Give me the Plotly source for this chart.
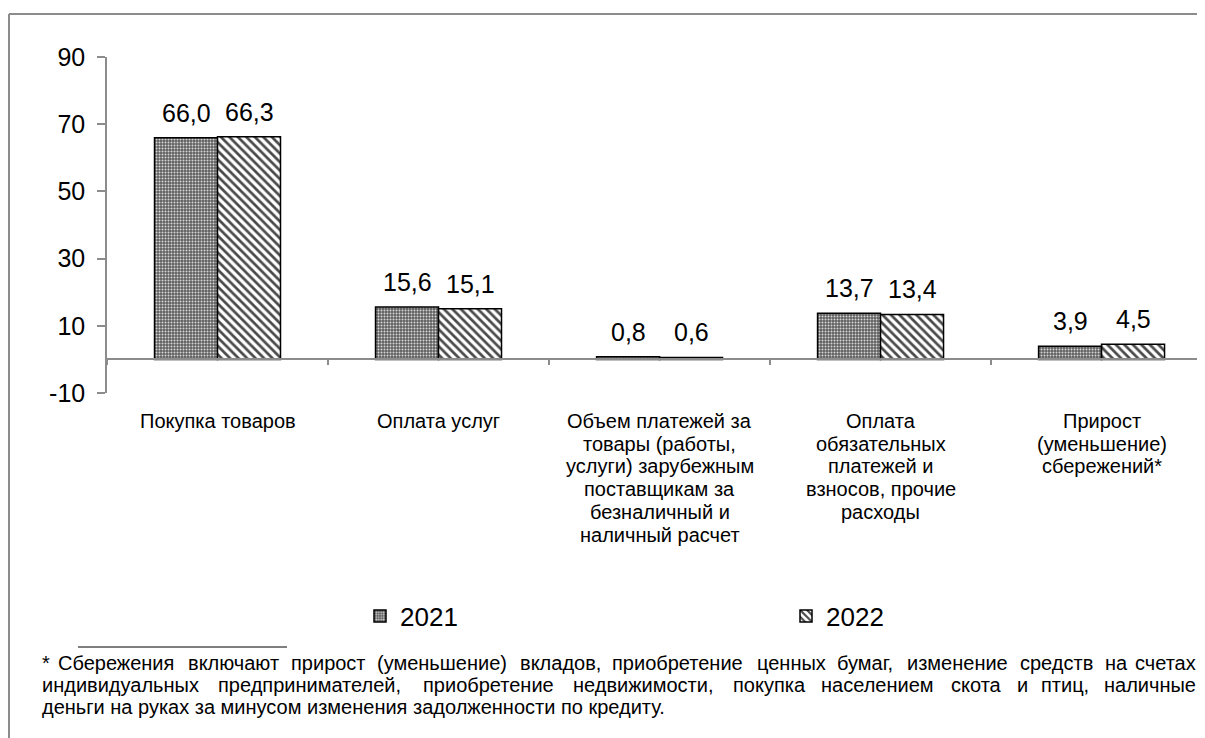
import plotly.graph_objects as go

# ---- data ----
categories = [
    "Покупка товаров",
    "Оплата услуг",
    "Объем платежей за<br>товары (работы,<br>услуги) зарубежным<br>поставщикам за<br>безналичный и<br>наличный расчет",
    "Оплата<br>обязательных<br>платежей и<br>взносов, прочие<br>расходы",
    "Прирост<br>(уменьшение)<br>сбережений*",
]
values_2021 = [66.0, 15.6, 0.8, 13.7, 3.9]
values_2022 = [66.3, 15.1, 0.6, 13.4, 4.5]
series_names = ["2021", "2022"]
y_tick_values = [-10, 10, 30, 50, 70, 90]
footnote_lines = [
    "* Сбережения включают прирост (уменьшение) вкладов, приобретение ценных бумаг, изменение средств на счетах",
    "индивидуальных предпринимателей, приобретение недвижимости, покупка населением скота и птиц, наличные",
    "деньги на руках за минусом изменения задолженности по кредиту.",
]
footnote_justified = [True, True, False]

# ---- layout geometry (pixels; page has an 8px body margin) ----
OFF = 8
W, H = 1197, 730
L, T = 99, 49
PLOT_W = W - L
PLOT_H = 336
B = H - T - PLOT_H
Y_MIN, Y_MAX = -10, 90
X_RANGE = [-0.5, 4.468]
BARGAP = 0.43


def px_x(sx):
    """screen x -> paper x"""
    return (sx - OFF - L) / PLOT_W


def px_y(sy):
    """screen y -> paper y"""
    return (T + PLOT_H - (sy - OFF)) / PLOT_H


FONT = "Liberation Sans, Arial, sans-serif"
GRAY = "#8c8c8c"

# approximate Arial/Liberation Sans advance widths (1/1000 em) for justification
_W = {" ": 278, ",": 278, ".": 278, "(": 333, ")": 333, "*": 389, "С": 722,
      "а": 556, "б": 573, "в": 531, "г": 365, "д": 583, "е": 556, "ж": 669,
      "з": 458, "и": 559, "й": 559, "к": 438, "л": 573, "м": 688, "н": 552,
      "о": 556, "п": 542, "р": 556, "с": 500, "т": 458, "у": 500, "ф": 823,
      "х": 500, "ц": 573, "ч": 521, "ш": 802, "щ": 823, "ъ": 625, "ы": 719,
      "ь": 521, "э": 510, "ю": 750, "я": 542}


def text_width(s, size):
    return sum(_W.get(c, 556) for c in s) * size / 1000.0 * 1.04


fig = go.Figure()
fig.add_trace(go.Bar(
    name=series_names[0], x=categories, y=values_2021, legend="legend",
    marker=dict(
        color="#5e5e5e",
        line=dict(color="black", width=1.5),
        pattern=dict(shape=".", bgcolor="#5e5e5e", fgcolor="#d8d8d8",
                     size=3, solidity=0.35, fillmode="replace"),
    ),
))
fig.add_trace(go.Bar(
    name=series_names[1], x=categories, y=values_2022, legend="legend2",
    marker=dict(
        color="white",
        line=dict(color="black", width=1.5),
        pattern=dict(shape="\\", bgcolor="white", fgcolor="#4a4a4a",
                     size=6, solidity=0.45, fillmode="replace"),
    ),
))

# data labels
group_px = PLOT_W / (X_RANGE[1] - X_RANGE[0])
bar_px = group_px * (1 - BARGAP) / 2
for vals, sign in ((values_2021, -1), (values_2022, 1)):
    for cat, v in zip(categories, vals):
        fig.add_annotation(
            x=cat, y=v, xref="x", yref="y",
            text=f"{v:.1f}".replace(".", ","),
            showarrow=False, xshift=sign * bar_px / 2, yshift=25,
            yanchor="middle", xanchor="center",
            font=dict(family=FONT, size=25, color="black"),
        )

# category labels (one annotation per line for Excel-like line spacing)
for cat in categories:
    for j, part in enumerate(cat.split("<br>")):
        fig.add_annotation(
            x=cat, y=px_y(421 + 22.7 * j), xref="x", yref="paper",
            text=part, showarrow=False, xanchor="center", yanchor="middle",
            font=dict(family=FONT, size=20, color="black"),
        )

# footnote (first two lines justified between the margins)
FN_SIZE = 20
FN_LEFT, FN_RIGHT = 40, 1198
for i, (line, just) in enumerate(zip(footnote_lines, footnote_justified)):
    y = px_y(663 + 22 * i)
    if just:
        words = line.split(" ")
        widths = [text_width(w, FN_SIZE) for w in words]
        gap = (FN_RIGHT - FN_LEFT - sum(widths)) / (len(words) - 1)
        x = FN_LEFT
        for k, (w, wd) in enumerate(zip(words, widths)):
            last = k == len(words) - 1
            fig.add_annotation(
                x=px_x(FN_RIGHT if last else x), y=y, xref="paper", yref="paper",
                text=w, showarrow=False, xanchor="right" if last else "left",
                yanchor="middle",
                font=dict(family=FONT, size=FN_SIZE, color="black"),
            )
            x += wd + gap
    else:
        fig.add_annotation(
            x=px_x(FN_LEFT), y=y, xref="paper", yref="paper",
            text=line, showarrow=False, xanchor="left", yanchor="middle",
            font=dict(family=FONT, size=FN_SIZE, color="black"),
        )

# separator line and outer frame
fig.add_shape(type="line", xref="paper", yref="paper",
              x0=px_x(78), x1=px_x(287), y0=px_y(647), y1=px_y(647),
              line=dict(color="black", width=1))
fig.add_shape(type="line", xref="paper", yref="paper",
              x0=px_x(9), x1=px_x(1215), y0=px_y(14), y1=px_y(14),
              line=dict(color=GRAY, width=2))
fig.add_shape(type="line", xref="paper", yref="paper",
              x0=px_x(9), x1=px_x(9), y0=px_y(14), y1=px_y(750),
              line=dict(color=GRAY, width=2))

legend_common = dict(
    orientation="h", xanchor="left", yanchor="middle", y=px_y(616),
    font=dict(family=FONT, size=26, color="black"),
    bgcolor="rgba(0,0,0,0)",
)

fig.update_layout(
    width=W, height=H,
    margin=dict(l=L, r=0, t=T, b=B, autoexpand=False),
    paper_bgcolor="white", plot_bgcolor="white",
    barmode="group", bargap=BARGAP, bargroupgap=0,
    font=dict(family=FONT, color="black"),
    showlegend=True,
    legend=dict(x=px_x(360), **legend_common),
    legend2=dict(x=px_x(786), **legend_common),
    xaxis=dict(
        type="category", range=X_RANGE, anchor="free",
        position=(0 - Y_MIN) / (Y_MAX - Y_MIN),
        showline=True, linecolor=GRAY, linewidth=2,
        ticks="outside", tickson="boundaries", ticklen=5, tickcolor=GRAY, tickwidth=1.5,
        showticklabels=False,
        showgrid=False, zeroline=False,
    ),
    yaxis=dict(
        range=[Y_MIN, Y_MAX], tickvals=y_tick_values,
        ticktext=[str(v) for v in y_tick_values],
        showline=True, linecolor=GRAY, linewidth=1.5,
        ticks="outside", ticklen=8, tickcolor=GRAY, tickwidth=1.5,
        ticklabelstandoff=7,
        tickfont=dict(family=FONT, size=25, color="black"),
        showgrid=False, zeroline=False,
    ),
)

fig.write_html("out.html")
